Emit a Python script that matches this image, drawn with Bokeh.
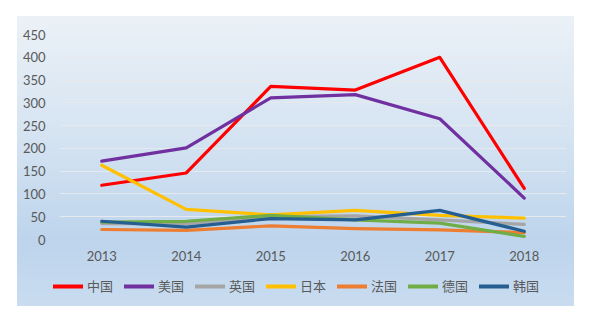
from bokeh.plotting import figure
from bokeh.models import Legend, LegendItem, FixedTicker, Range1d, FactorRange, Spacer
from bokeh.layouts import column, row
from bokeh.embed import file_html
from bokeh.resources import INLINE

years = ["2013", "2014", "2015", "2016", "2017", "2018"]
names = ["中国", "美国", "英国", "日本", "法国", "德国", "韩国"]
china   = [119, 146, 336, 328, 400, 112]
usa     = [172, 201, 311, 318, 265, 91]
uk      = [35, 35, 50, 52, 43, 33]
japan   = [163, 66, 54, 64, 53, 47]
france  = [22, 20, 30, 24, 21, 15]
germany = [38, 40, 53, 43, 36, 7]
korea   = [40, 27, 46, 43, 64, 18]
series = [china, usa, uk, japan, france, germany, korea]
colors = ["#ff0000", "#7030a0", "#a5a5a5", "#ffc000", "#ed7d31", "#70ad47", "#255e91"]
yticks = [0, 50, 100, 150, 200, 250, 300, 350, 400, 450]

p = figure(width=557, height=255, x_range=FactorRange(*years, range_padding=0),
           y_range=Range1d(0, 450), output_backend="svg", toolbar_location=None,
           min_border_left=42, min_border_right=8, min_border_top=18, min_border_bottom=32)
p.border_fill_alpha = 0
p.background_fill_alpha = 0
p.outline_line_color = None

for name, vals, c in zip(names, series, colors):
    p.line(years, vals, line_color=c, line_width=3.2, line_join="round", line_cap="round")

p.xgrid.grid_line_color = None
p.ygrid.grid_line_color = "#e6e9ee"
p.ygrid.grid_line_width = 1
p.yaxis.ticker = FixedTicker(ticks=yticks)

for ax in (p.xaxis[0], p.yaxis[0]):
    ax.axis_line_color = None
    ax.major_tick_line_color = None
    ax.minor_tick_line_color = None
    ax.major_tick_out = 0
    ax.major_tick_in = 0
    ax.major_label_text_color = "#595959"
    ax.major_label_text_font = "Lato"
    ax.major_label_text_font_size = "13px"
p.yaxis.major_label_standoff = 14
p.xaxis.major_label_standoff = 11

# legend strip below the plot (series drawn off-view so only the legend shows)
lf = figure(width=557, height=35, x_range=FactorRange(*years, range_padding=0),
            y_range=Range1d(1000, 1001), x_axis_location=None, y_axis_location=None,
            output_backend="svg", toolbar_location=None,
            min_border_left=0, min_border_right=0, min_border_top=0, min_border_bottom=0)
lf.grid.visible = False
lf.outline_line_color = None
lf.border_fill_alpha = 0
lf.background_fill_alpha = 0
items = []
for name, vals, c in zip(names, series, colors):
    r = lf.line(years, vals, line_color=c, line_width=4, line_cap="round")
    items.append(LegendItem(label=name, renderers=[r]))
legend = Legend(items=items, orientation="horizontal", location=(36, 11),
                glyph_width=30, glyph_height=16, label_height=16, label_standoff=4,
                spacing=11, padding=0, margin=0, border_line_color=None,
                background_fill_alpha=0, label_text_font="Noto Sans CJK SC",
                label_text_font_size="13px", label_text_color="#595959")
lf.add_layout(legend, "center")

grad = "linear-gradient(to bottom, #ebf1f7 0%, #d6e4f2 40%, #bdd4ec 78%, #c9dcf0 100%)"
chart = column(row(p), row(lf), spacing=0, styles={"background": grad})
layout = column(Spacer(height=16), row(Spacer(width=17), chart))
open("out.html", "w").write(file_html(layout, INLINE))
